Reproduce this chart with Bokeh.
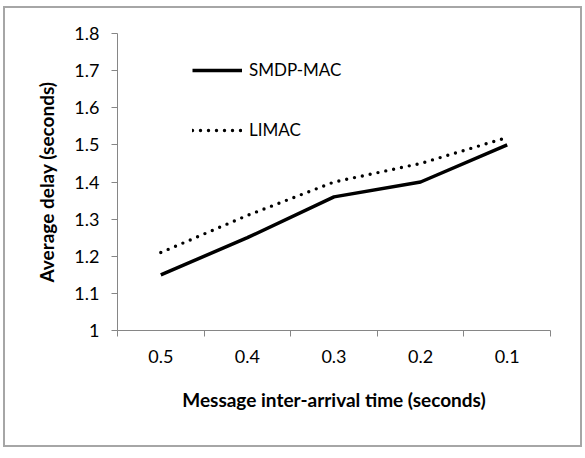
from bokeh.plotting import figure
from bokeh.models import FixedTicker, Range1d, Legend, LegendItem
from bokeh.embed import file_html
from bokeh.resources import INLINE

categories = ["0.5", "0.4", "0.3", "0.2", "0.1"]
smdp_mac = [1.15, 1.25, 1.36, 1.40, 1.50]
limac = [1.21, 1.31, 1.40, 1.45, 1.52]
y_ticks = [1.0, 1.1, 1.2, 1.3, 1.4, 1.5, 1.6, 1.7, 1.8]
y_labels = ["1", "1.1", "1.2", "1.3", "1.4", "1.5", "1.6", "1.7", "1.8"]

xs = list(range(1, len(categories) + 1))
FONT = "Lato"
AXIS_COLOR = "#868686"

p = figure(width=579, height=441, output_backend="svg", toolbar_location=None,
           x_range=Range1d(0.5, len(categories) + 0.5), y_range=Range1d(1.0, 1.8),
           min_border_left=112, min_border_right=34, min_border_top=25, min_border_bottom=119)
p.margin = (6, 0, 0, 3)
p.styles = {"border": "2px solid #a6a6a6", "box-sizing": "border-box"}
p.outline_line_color = None
p.xgrid.visible = False
p.ygrid.visible = False
p.background_fill_color = "white"
p.border_fill_color = "white"

# x axis: ticks at category boundaries, labels at centers
xax = p.xaxis[0]
xax.ticker = FixedTicker(ticks=xs, minor_ticks=[x - 0.5 for x in xs] + [xs[-1] + 0.5])
xax.major_label_overrides = {x: c for x, c in zip(xs, categories)}
xax.major_tick_out = 0
xax.major_tick_in = 0
xax.minor_tick_out = 6
xax.minor_tick_in = 0
xax.minor_tick_line_color = AXIS_COLOR
xax.axis_line_color = AXIS_COLOR
xax.major_label_text_font = FONT
xax.major_label_text_font_size = "18px"
xax.major_label_text_color = "black"
xax.major_label_standoff = 13
xax.axis_label = "Message inter-arrival time (seconds)"
xax.axis_label_text_font = FONT
xax.axis_label_text_font_style = "bold"
xax.axis_label_text_font_size = "19px"
xax.axis_label_text_color = "black"
xax.axis_label_standoff = 22

yax = p.yaxis[0]
yax.ticker = FixedTicker(ticks=y_ticks, minor_ticks=[])
yax.major_label_overrides = {t: l for t, l in zip(y_ticks, y_labels)}
yax.major_tick_out = 6
yax.major_tick_in = 0
yax.major_tick_line_color = AXIS_COLOR
yax.axis_line_color = AXIS_COLOR
yax.major_label_text_font = FONT
yax.major_label_text_font_size = "18px"
yax.major_label_text_color = "black"
yax.major_label_standoff = 12
yax.axis_label = "Average delay (seconds)"
yax.axis_label_text_font = FONT
yax.axis_label_text_font_style = "bold"
yax.axis_label_text_font_size = "19px"
yax.axis_label_text_color = "black"
yax.axis_label_standoff = 13

r1 = p.line(xs, smdp_mac, line_color="black", line_width=3.5, line_join="round")
r2 = p.line(xs, limac, line_color="black", line_width=3.4, line_dash="0 8", line_cap="round")

legend = Legend(items=[LegendItem(label="SMDP-MAC", renderers=[r1]),
                       LegendItem(label="LIMAC", renderers=[r2])],
                location=(75, 190), orientation="vertical")
legend.border_line_color = None
legend.background_fill_alpha = 0
legend.padding = 0
legend.margin = 0
legend.glyph_width = 50
legend.glyph_height = 20
legend.label_height = 20
legend.spacing = 39
legend.label_standoff = 7
legend.label_text_font = FONT
legend.label_text_font_size = "17px"
legend.label_text_color = "black"
p.add_layout(legend, "center")

open("out.html", "w").write(file_html(p, INLINE))
